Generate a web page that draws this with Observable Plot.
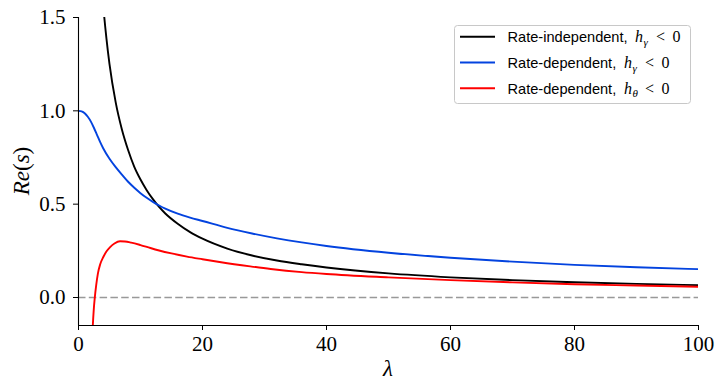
<!DOCTYPE html>
<html><head><meta charset="utf-8">
<script src="https://cdn.jsdelivr.net/npm/d3@7"></script>
<script src="https://cdn.jsdelivr.net/npm/@observablehq/plot@0.6"></script>
<style>body{margin:0;background:#fff}</style>
</head><body><div id="chart"></div>
<script>
const xTicks = [0, 20, 40, 60, 80, 100];
const yTicks = [0, 0.5, 1.0, 1.5];
const seriesNames = ["Rate-independent,", "Rate-dependent,", "Rate-dependent,"];
const seriesSubs = ["γ", "γ", "θ"];
const seriesColors = ["#000000", "#0343df", "#ff0000"];

// Rate-independent, h_gamma < 0 (black)
const lamBlack = [3.6, 4, 4.5, 5, 6, 7, 8, 9, 10, 11, 12, 13, 14, 16, 18, 20, 24, 28, 32, 36, 40, 50, 60, 70, 80, 90, 100];
const reBlack  = [1.74, 1.56, 1.39, 1.25, 1.045, 0.9, 0.79, 0.70, 0.632, 0.575, 0.527, 0.485, 0.45, 0.395, 0.35, 0.315, 0.262, 0.225, 0.198, 0.178, 0.161, 0.129, 0.108, 0.093, 0.082, 0.073, 0.066];

// Rate-dependent, h_gamma < 0 (blue)
const lamBlue = [0, 0.5, 1, 1.5, 2, 2.5, 3, 3.5, 4, 5, 6, 7, 8, 9, 10, 11, 12, 13, 14, 16, 18, 20, 24, 28, 32, 36, 40, 50, 60, 70, 80, 90, 100];
const reBlue  = [1.0, 0.997, 0.987, 0.968, 0.942, 0.908, 0.87, 0.832, 0.798, 0.743, 0.698, 0.658, 0.62, 0.588, 0.559, 0.534, 0.512, 0.493, 0.476, 0.449, 0.428, 0.41, 0.373, 0.343, 0.317, 0.295, 0.276, 0.24, 0.213, 0.192, 0.175, 0.162, 0.152];

// Rate-dependent, h_theta < 0 (red)
const lamRed = [2.2, 2.31, 2.45, 2.63, 2.85, 3.12, 3.5, 4.0, 4.5, 5.1, 5.8, 6.7, 7.5, 8.5, 10, 11.6, 13, 15, 17.5, 20, 23, 27.7, 31, 36, 40, 50, 60, 70, 80, 90, 100];
const reRed  = [-0.24, -0.15, -0.07, 0.0, 0.065, 0.127, 0.178, 0.217, 0.246, 0.27, 0.289, 0.301, 0.3, 0.294, 0.281, 0.265, 0.252, 0.236, 0.219, 0.205, 0.189, 0.167, 0.153, 0.136, 0.126, 0.108, 0.093, 0.081, 0.071, 0.064, 0.0575];

const toRows = (xs, ys) => xs.map((x, i) => ({lam: x, re: ys[i]}));
const series = [toRows(lamBlack, reBlack), toRows(lamBlue, reBlue), toRows(lamRed, reRed)];

const chart = Plot.plot({
  width: 724, height: 392,
  marginLeft: 78, marginRight: 26, marginTop: 17, marginBottom: 67,
  x: {domain: [0, 100]},
  y: {domain: [-0.15, 1.5]},
  style: {fontFamily: "'Liberation Serif', serif", fontSize: "21px", color: "#000", background: "#fff", overflow: "visible"},
  marks: [
    Plot.ruleY([0], {stroke: "#999", strokeWidth: 1.6, strokeDasharray: "7.5,3.3"}),
    ...series.map((s, i) => Plot.line(s, {x: "lam", y: "re", stroke: seriesColors[i], strokeWidth: 1.9, curve: "monotone-x", clip: true})),
    Plot.ruleX([0], {stroke: "#000", strokeWidth: 1.1}),
    Plot.ruleY([-0.15], {stroke: "#000", strokeWidth: 1.1}),
    Plot.axisX({ticks: xTicks, tickSize: 5, tickPadding: 6, label: null, fontSize: 21, tickFormat: d => String(d)}),
    Plot.axisY({ticks: yTicks, tickSize: 5, tickPadding: 8, label: null, fontSize: 21, tickFormat: d => d.toFixed(1)})
  ]
});
document.getElementById("chart").appendChild(chart);

const svg = d3.select(chart);
// x label
svg.append("text").attr("x", 388).attr("y", 376).attr("text-anchor", "middle")
  .style("font-family", "'Liberation Serif', serif").style("font-style", "italic").style("font-size", "23px")
  .text("λ");
// y label
const yl = svg.append("text").attr("transform", "translate(29,171) rotate(-90)").attr("text-anchor", "middle")
  .style("font-family", "'Liberation Serif', serif").style("font-size", "23px");
yl.append("tspan").style("font-style", "italic").text("Re");
yl.append("tspan").text("(");
yl.append("tspan").style("font-style", "italic").text("s");
yl.append("tspan").text(")");

// legend
const lg = svg.append("g").attr("text-anchor", "start");
lg.append("rect").attr("x", 454.5).attr("y", 25.5).attr("width", 236).attr("height", 78).attr("rx", 3).attr("ry", 3)
  .style("fill", "#fff").style("fill-opacity", 0.8).style("stroke", "#c8c8c8").style("stroke-width", "1px");
const rowY = [36.7, 62.5, 88.3];
const hX = [635, 624, 624];
seriesNames.forEach((name, i) => {
  const y = rowY[i];
  lg.append("line").attr("x1", 460).attr("x2", 495).attr("y1", y).attr("y2", y)
    .style("stroke", seriesColors[i]).style("stroke-width", "1.9px");
  lg.append("text").attr("x", 507.5).attr("y", y + 5.5).attr("text-anchor", "start")
    .style("font-family", "'Liberation Sans', sans-serif").style("font-size", "14.6px")
    .text(name);
  const m = lg.append("text").attr("y", y + 5.5).attr("text-anchor", "start")
    .style("font-family", "'Liberation Serif', serif").style("font-size", "16px");
  m.append("tspan").attr("x", hX[i]).style("font-style", "italic").text("h");
  m.append("tspan").attr("x", hX[i] + 8.5).attr("dy", 3.5).style("font-style", "italic").style("font-size", "11px").text(seriesSubs[i]);
  m.append("tspan").attr("x", hX[i] + 21).attr("dy", -3.5).text("<");
  m.append("tspan").attr("x", hX[i] + 37.5).text("0");
});
</script>
</body></html>
